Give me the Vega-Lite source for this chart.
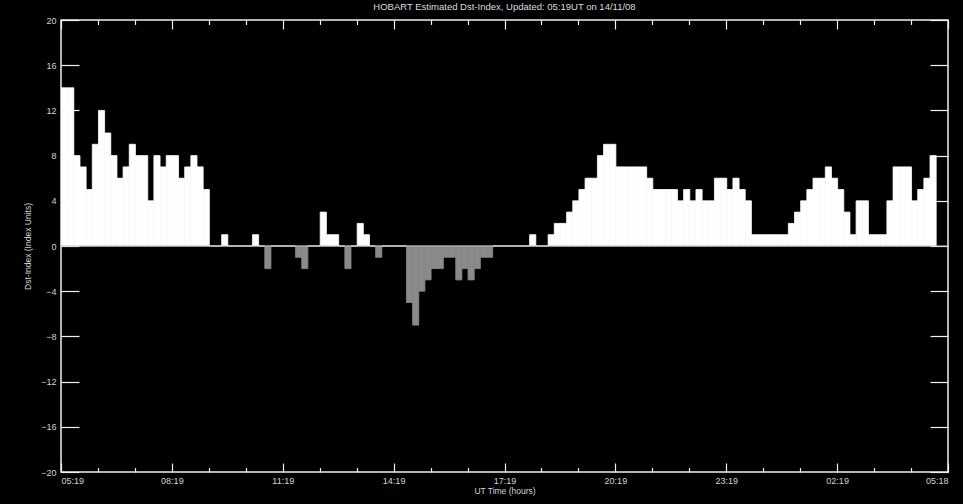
{
  "$schema": "https://vega.github.io/schema/vega-lite/v6.json",
  "width": 887,
  "height": 452,
  "autosize": "none",
  "padding": {"left": 61, "top": 20, "right": 15, "bottom": 32},
  "background": "black",
  "title": {"text": "HOBART Estimated Dst-Index, Updated: 05:19UT on 14/11/08", "color": "#dcdcdc", "fontSize": 9.5, "font": "Liberation Sans", "fontWeight": "normal", "offset": 5, "anchor": "middle"},
  "config": {
    "view": {"stroke": "#f0f0f0", "strokeWidth": 1.5},
    "axis": {"labelFont": "Liberation Sans", "titleFont": "Liberation Sans", "labelColor": "#d4d4d4", "titleColor": "#d4d4d4", "tickColor": "#f0f0f0", "tickWidth": 1.2, "domain": false, "grid": false, "titleFontWeight": "normal", "labelFontSize": 9, "titleFontSize": 8.5}
  },
  "data": {"values": [
    {"i":0,"v":14},{"i":1,"v":14},{"i":2,"v":8},{"i":3,"v":7},{"i":4,"v":5},{"i":5,"v":9},{"i":6,"v":12},{"i":7,"v":10},{"i":8,"v":8},{"i":9,"v":6},
    {"i":10,"v":7},{"i":11,"v":9},{"i":12,"v":8},{"i":13,"v":8},{"i":14,"v":4},{"i":15,"v":8},{"i":16,"v":7},{"i":17,"v":8},{"i":18,"v":8},{"i":19,"v":6},
    {"i":20,"v":7},{"i":21,"v":8},{"i":22,"v":7},{"i":23,"v":5},{"i":24,"v":0},{"i":25,"v":0},{"i":26,"v":1},{"i":27,"v":0},{"i":28,"v":0},{"i":29,"v":0},
    {"i":30,"v":0},{"i":31,"v":1},{"i":32,"v":0},{"i":33,"v":-2},{"i":34,"v":0},{"i":35,"v":0},{"i":36,"v":0},{"i":37,"v":0},{"i":38,"v":-1},{"i":39,"v":-2},
    {"i":40,"v":0},{"i":41,"v":0},{"i":42,"v":3},{"i":43,"v":1},{"i":44,"v":1},{"i":45,"v":0},{"i":46,"v":-2},{"i":47,"v":0},{"i":48,"v":2},{"i":49,"v":1},
    {"i":50,"v":0},{"i":51,"v":-1},{"i":52,"v":0},{"i":53,"v":0},{"i":54,"v":0},{"i":55,"v":0},{"i":56,"v":-5},{"i":57,"v":-7},{"i":58,"v":-4},{"i":59,"v":-3},
    {"i":60,"v":-2},{"i":61,"v":-2},{"i":62,"v":-1},{"i":63,"v":-1},{"i":64,"v":-3},{"i":65,"v":-2},{"i":66,"v":-3},{"i":67,"v":-2},{"i":68,"v":-1},{"i":69,"v":-1},
    {"i":70,"v":0},{"i":71,"v":0},{"i":72,"v":0},{"i":73,"v":0},{"i":74,"v":0},{"i":75,"v":0},{"i":76,"v":1},{"i":77,"v":0},{"i":78,"v":0},{"i":79,"v":1},
    {"i":80,"v":2},{"i":81,"v":2},{"i":82,"v":3},{"i":83,"v":4},{"i":84,"v":5},{"i":85,"v":6},{"i":86,"v":6},{"i":87,"v":8},{"i":88,"v":9},{"i":89,"v":9},
    {"i":90,"v":7},{"i":91,"v":7},{"i":92,"v":7},{"i":93,"v":7},{"i":94,"v":7},{"i":95,"v":6},{"i":96,"v":5},{"i":97,"v":5},{"i":98,"v":5},{"i":99,"v":5},
    {"i":100,"v":4},{"i":101,"v":5},{"i":102,"v":4},{"i":103,"v":5},{"i":104,"v":4},{"i":105,"v":4},{"i":106,"v":6},{"i":107,"v":6},{"i":108,"v":5},{"i":109,"v":6},
    {"i":110,"v":5},{"i":111,"v":4},{"i":112,"v":1},{"i":113,"v":1},{"i":114,"v":1},{"i":115,"v":1},{"i":116,"v":1},{"i":117,"v":1},{"i":118,"v":2},{"i":119,"v":3},
    {"i":120,"v":4},{"i":121,"v":5},{"i":122,"v":6},{"i":123,"v":6},{"i":124,"v":7},{"i":125,"v":6},{"i":126,"v":5},{"i":127,"v":3},{"i":128,"v":1},{"i":129,"v":4},
    {"i":130,"v":4},{"i":131,"v":1},{"i":132,"v":1},{"i":133,"v":1},{"i":134,"v":4},{"i":135,"v":7},{"i":136,"v":7},{"i":137,"v":7},{"i":138,"v":4},{"i":139,"v":5},
    {"i":140,"v":6},{"i":141,"v":8}
  ]},
  "layer": [
    {
      "mark": {"type": "bar", "binSpacing": 0, "strokeWidth": 0.8},
      "encoding": {
        "x": {
          "field": "i", "type": "quantitative",
          "bin": {"step": 1, "extent": [0, 144]},
          "scale": {"domain": [0, 144], "nice": false, "zero": false},
          "axis": {
            "orient": "bottom",
            "title": "UT Time (hours)",
            "values": [0,6,12,18,24,30,36,42,48,54,60,66,72,78,84,90,96,102,108,114,120,126,132,138,144],
            "tickSize": {"condition": {"test": "datum.value % 18 === 0", "value": -9}, "value": -4.5},
            "labelPadding": 13,
            "labelExpr": "datum.value % 18 === 0 ? ['05:19','08:19','11:19','14:19','17:19','20:19','23:19','02:19','05:18'][datum.value / 18] : ''",
            "labelOverlap": false,
            "titlePadding": -3
          }
        },
        "y": {
          "field": "v", "type": "quantitative",
          "scale": {"domain": [-20, 20], "nice": false},
          "axis": {
            "orient": "left",
            "title": "Dst-Index (Index Units)",
            "values": [-20,-16,-12,-8,-4,0,4,8,12,16,20],
            "tickSize": -18,
            "labelPadding": 23,
            "titlePadding": 8
          }
        },
        "color": {"condition": {"test": "datum.v < 0", "value": "#8a8a8a"}, "value": "#ffffff"},
        "stroke": {"condition": {"test": "datum.v < 0", "value": "#8a8a8a"}, "value": "#ffffff"}
      }
    },
    {
      "data": {"values": [{}]},
      "mark": {"type": "rule", "color": "#c4c4c4", "strokeWidth": 1.2},
      "encoding": {
        "x": {
          "datum": 0, "type": "quantitative",
          "axis": {
            "orient": "top",
            "title": null,
            "labels": false,
            "values": [0,6,12,18,24,30,36,42,48,54,60,66,72,78,84,90,96,102,108,114,120,126,132,138,144],
            "tickSize": {"condition": {"test": "datum.value % 18 === 0", "value": -9}, "value": -4.5}
          }
        },
        "x2": {"datum": 144},
        "y": {
          "datum": 0, "type": "quantitative",
          "axis": {
            "orient": "right",
            "title": null,
            "labels": false,
            "values": [-20,-16,-12,-8,-4,0,4,8,12,16,20],
            "tickSize": -18
          }
        }
      }
    }
  ],
  "resolve": {"axis": {"x": "independent", "y": "independent"}}
}
